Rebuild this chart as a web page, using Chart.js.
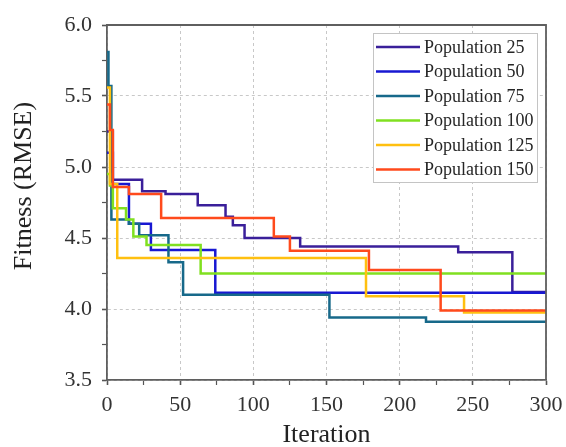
<!DOCTYPE html>
<html>
<head>
<meta charset="utf-8">
<script src="https://cdn.jsdelivr.net/npm/chart.js@4.4.1/dist/chart.umd.min.js"></script>
<style>
  html, body { margin: 0; padding: 0; background: #ffffff; }
  #wrap { width: 566px; height: 447px; position: relative; }
</style>
</head>
<body>
<div id="wrap"><canvas id="c" width="566" height="447"></canvas></div>
<script>
// ---- Data ----
const seriesLabels = ['Population 25', 'Population 50', 'Population 75', 'Population 100', 'Population 125', 'Population 150'];

const iterP25 = [0, 4, 24, 40, 62, 81, 86, 94, 132, 240, 277, 300];
const fitP25  = [5.25, 4.91, 4.83, 4.81, 4.73, 4.65, 4.59, 4.50, 4.44, 4.40, 4.12, 4.12];

const iterP50 = [0, 4, 15, 30, 74, 300];
const fitP50  = [5.10, 4.88, 4.60, 4.415, 4.115, 4.115];

const iterP75 = [0, 1, 3, 15, 22, 42, 52, 152, 218, 300];
const fitP75  = [5.81, 5.57, 4.63, 4.60, 4.52, 4.33, 4.10, 3.94, 3.91, 3.91];

const iterP100 = [0, 2, 4, 13, 18, 27, 64, 300];
const fitP100  = [4.95, 4.87, 4.71, 4.63, 4.51, 4.45, 4.25, 4.25];

const iterP125 = [0, 2, 7, 177, 244, 300];
const fitP125  = [5.56, 4.88, 4.36, 4.09, 3.975, 3.975];

const iterP150 = [0, 2, 4, 15, 37, 114, 125, 179, 228, 300];
const fitP150  = [5.44, 5.26, 4.86, 4.81, 4.64, 4.51, 4.41, 4.275, 3.99, 3.99];

const xTickValues = [0, 50, 100, 150, 200, 250, 300];
const yTickValues = [3.5, 4.0, 4.5, 5.0, 5.5, 6.0];

// ---- Styles ----
const colors = ['#3a1f9a', '#1818d2', '#17698a', '#80e020', '#ffc010', '#ff4a1c'];
const SERIF = '"Liberation Serif", "DejaVu Serif", serif';

const iters = [iterP25, iterP50, iterP75, iterP100, iterP125, iterP150];
const fits  = [fitP25, fitP50, fitP75, fitP100, fitP125, fitP150];

const datasets = seriesLabels.map((lab, i) => ({
  label: lab,
  data: iters[i].map((x, k) => ({ x: x, y: fits[i][k] })),
  borderColor: colors[i],
  backgroundColor: colors[i],
  borderWidth: 2.5,
  pointRadius: 0,
  stepped: true,
  fill: false,
  order: seriesLabels.length - 1 - i
}));

const isMajorX = v => xTickValues.some(t => Math.abs(t - v) < 1e-6);
const isMajorY = v => yTickValues.some(t => Math.abs(t - v) < 1e-6);

const framePlugin = {
  id: 'frameAndLegend',
  afterDatasetsDraw(chart) {
    const { ctx, chartArea: a } = chart;
    ctx.save();
    // top and right frame lines
    ctx.strokeStyle = '#5f5f5f';
    ctx.lineWidth = 1.8;
    ctx.beginPath();
    ctx.moveTo(a.left - 0.9, a.top);
    ctx.lineTo(a.right, a.top);
    ctx.lineTo(a.right, a.bottom);
    ctx.stroke();

    // legend box
    const bx = a.right - 173, by = a.top + 8, bw = 164, bh = 149;
    ctx.fillStyle = '#ffffff';
    ctx.fillRect(bx, by, bw, bh);
    ctx.strokeStyle = '#c4c4c4';
    ctx.lineWidth = 1;
    ctx.strokeRect(bx + 0.5, by + 0.5, bw, bh);
    ctx.font = '18px ' + SERIF;
    ctx.textBaseline = 'middle';
    ctx.textAlign = 'left';
    chart.data.datasets.forEach((ds, i) => {
      const yy = by + 14 + i * 24.5;
      ctx.strokeStyle = ds.borderColor;
      ctx.lineWidth = 2.5;
      ctx.beginPath();
      ctx.moveTo(bx + 3, yy);
      ctx.lineTo(bx + 47, yy);
      ctx.stroke();
      ctx.fillStyle = '#262626';
      ctx.fillText(ds.label, bx + 51, yy + 1);
    });

    // y axis title
    ctx.save();
    ctx.translate(24, 186);
    ctx.rotate(-Math.PI / 2);
    ctx.font = '26px ' + SERIF;
    ctx.fillStyle = '#222222';
    ctx.textAlign = 'center';
    ctx.textBaseline = 'middle';
    ctx.fillText('Fitness (RMSE)', 0, 0);
    ctx.restore();
    ctx.restore();
  }
};

new Chart(document.getElementById('c'), {
  type: 'line',
  data: { datasets: datasets },
  options: {
    responsive: false,
    animation: false,
    events: [],
    layout: { padding: { left: 0, right: 20, top: 25, bottom: 0 } },
    plugins: { legend: { display: false }, tooltip: { enabled: false } },
    scales: {
      x: {
        type: 'linear',
        min: 0, max: 300,
        afterFit: s => { s.height = 67; s.paddingRight = 0; s.paddingLeft = 0; },
        ticks: {
          stepSize: 25,
          autoSkip: false,
          maxRotation: 0,
          padding: 7,
          color: '#333333',
          font: { family: SERIF, size: 22 },
          callback: v => isMajorX(v) ? String(v) : ''
        },
        grid: {
          color: c => (c.tick && isMajorX(c.tick.value)) ? '#c8c8c8' : 'rgba(0,0,0,0)',
          lineWidth: 1,
          tickLength: 5,
          tickColor: '#555555',
          tickWidth: c => (c.tick && isMajorX(c.tick.value)) ? 1.6 : 1.2
        },
        border: { display: true, color: '#5f5f5f', width: 1.8, dash: [3, 3] },
        title: {
          display: true,
          text: 'Iteration',
          color: '#222222',
          font: { family: SERIF, size: 26 },
          padding: { top: 0, bottom: -4 }
        }
      },
      y: {
        type: 'linear',
        min: 3.5, max: 6.0,
        afterFit: s => { s.width = 107; s.paddingTop = 0; s.paddingBottom = 0; },
        ticks: {
          stepSize: 0.25,
          autoSkip: false,
          padding: 10,
          color: '#333333',
          font: { family: SERIF, size: 22 },
          callback: v => isMajorY(v) ? v.toFixed(1) : ''
        },
        grid: {
          color: c => (c.tick && isMajorY(c.tick.value)) ? '#c8c8c8' : 'rgba(0,0,0,0)',
          lineWidth: 1,
          tickLength: 5,
          tickColor: '#555555',
          tickWidth: c => (c.tick && isMajorY(c.tick.value)) ? 1.6 : 1.2
        },
        border: { display: true, color: '#5f5f5f', width: 1.8, dash: [3, 3] }
      }
    }
  },
  plugins: [framePlugin]
});
</script>
</body>
</html>
